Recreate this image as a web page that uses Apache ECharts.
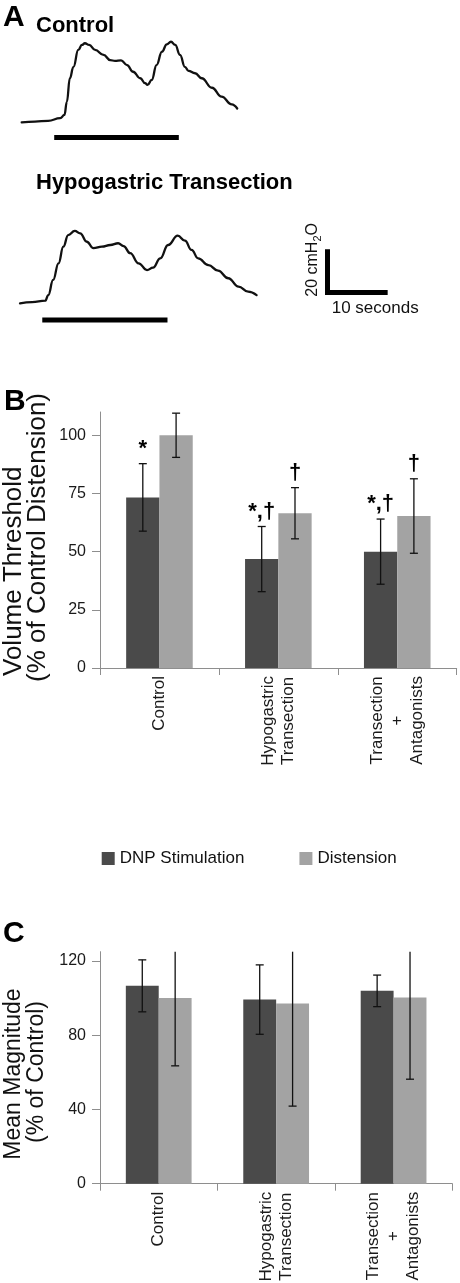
<!DOCTYPE html>
<html>
<head>
<meta charset="utf-8">
<script src="https://cdn.jsdelivr.net/npm/echarts@6/dist/echarts.min.js"></script>
<style>
html,body{margin:0;padding:0;background:#fff;}
#chart{width:460px;height:1283px;}
</style>
</head>
<body>
<div id="chart"></div>
<script>
// ---------- Panel A: pressure traces (seconds, cmH2O above baseline) ----------
const controlTrace = [[0,0],[2.2,0.3],[4.4,0.7],[6.4,1.9],[7.1,3.4],[7.5,9.5],[8.0,20.4],[8.6,25.7],[9.4,33.5],[10.0,35.8],[10.5,36.6],[11.2,35.8],[12.2,33.5],[13.6,31.2],[14.7,28.8],[15.5,28.4],[16.5,28.7],[17.5,26.5],[18.5,23.4],[19.7,20.4],[20.5,18.1],[20.9,17.3],[21.6,19.6],[22.4,26.5],[23.3,32.7],[24.1,36.1],[24.8,37.3],[25.5,35.8],[26.3,31.2],[27.1,25.7],[27.7,23.8],[28.8,22.7],[29.9,20.4],[31.6,16.0],[33.2,11.9],[34.9,8.3],[35.8,6.4]];
const hypoTrace = [[0,0],[2.0,0.5],[4.2,1.2],[4.7,3.8],[5.5,10.8],[6.4,18.5],[7.2,26.2],[8.0,31.6],[9.1,33.5],[10.0,32.4],[11.1,28.5],[12.2,25.5],[13.6,26.2],[15.0,27.0],[16.3,27.8],[17.2,26.5],[18.3,23.2],[19.7,18.5],[21.1,15.4],[22.1,16.5],[23.3,20.8],[24.6,27.0],[26.2,31.3],[27.4,29.0],[28.5,24.7],[29.6,20.8],[31.3,17.7],[32.9,15.1],[34.6,11.6],[36.3,7.7],[37.9,5.4],[39.3,3.8]];
const controlStimulus = [5.4, 26.1];   // seconds
const hypoStimulus = [3.7, 24.5];      // seconds
const scaleSeconds = 10;
const scalePressure = 20;

// ---------- Panels B & C ----------
const categories = ['Control', 'Hypogastric\nTransection', 'Transection\n+\nAntagonists'];
const seriesNames = ['DNP Stimulation', 'Distension'];
const thresholdDNP = [73.3, 46.8, 50.0];
const thresholdDNPErr = [14.5, 14.0, 14.0];
const thresholdDist = [100.0, 66.5, 65.3];
const thresholdDistErr = [9.5, 11.0, 16.0];
const thresholdDNPMarks = ['*', '*,†', '*,†'];
const thresholdDistMarks = ['', '†', '†'];
const thresholdTicks = [0, 25, 50, 75, 100];
const magnitudeDNP = [106.6, 99.2, 103.9];
const magnitudeDNPErr = [14.0, 18.7, 8.5];
const magnitudeDist = [100.0, 97.1, 100.3];
const magnitudeDistErr = [36.5, 55.3, 44.0];
const magnitudeTicks = [0, 40, 80, 120];

const FONT = '"Liberation Sans", Arial, Helvetica, sans-serif';
const DARK = '#4a4a4a';
const LIGHT = '#a3a3a3';
const AXIS_GRAY = '#8e8e8e';
const B_MAX = 110, C_MAX = 125;
const BAR_FRAC = 0.28;

function errorSeries(name, xi, yi, values, errs, side, yMax, marks) {
  return {
    type: 'custom', name: name, xAxisIndex: xi, yAxisIndex: yi, z: 10, silent: true,
    data: values.map((v, i) => [i, v, errs[i]]),
    renderItem: function (params, api) {
      const cat = api.value(0), v = api.value(1), e = api.value(2);
      const band = api.size([1, 0])[0];
      const bw = band * BAR_FRAC;
      const c = api.coord([cat, v]);
      const x = c[0] + side * bw / 2;
      const hi = v + e, lo = v - e;
      const clipped = hi > yMax;
      const yTop = api.coord([cat, clipped ? yMax : hi])[1];
      const yBot = api.coord([cat, lo])[1];
      const cap = 4;
      const st = { stroke: '#111', lineWidth: 1.3 };
      const children = [
        { type: 'line', shape: { x1: x, y1: yTop, x2: x, y2: yBot }, style: st },
        { type: 'line', shape: { x1: x - cap, y1: yBot, x2: x + cap, y2: yBot }, style: st }
      ];
      if (!clipped) children.push({ type: 'line', shape: { x1: x - cap, y1: yTop, x2: x + cap, y2: yTop }, style: st });
      const m = marks ? marks[params.dataIndex] : '';
      if (m) children.push({ type: 'text', style: { text: m, x: x, y: yTop - 15, align: 'center', verticalAlign: 'middle', fontSize: 22, fontWeight: 'bold', fontFamily: FONT, fill: '#000' } });
      return { type: 'group', children: children };
    }
  };
}

function catAxis(gi) {
  return {
    type: 'category', gridIndex: gi, data: categories,
    axisLine: { show: true, lineStyle: { color: AXIS_GRAY, width: 1 } },
    axisTick: { show: true, length: 7, lineStyle: { color: AXIS_GRAY } },
    axisLabel: {
      interval: 0, rotate: 90, margin: 8, color: '#1a1a1a', fontSize: 17, fontFamily: FONT,
      formatter: function (v) { return v.split('\n').map(s => '{c|' + s + '}').join('\n'); },
      rich: { c: { align: 'center', fontSize: 17, lineHeight: 20, fontFamily: FONT, color: '#1a1a1a' } }
    },
    splitLine: { show: false }
  };
}
function valAxis(gi, max, ticks) {
  return {
    type: 'value', gridIndex: gi, min: 0, max: max,
    axisLine: { show: true, lineStyle: { color: AXIS_GRAY, width: 1 } },
    axisTick: { show: true, length: 8, lineStyle: { color: AXIS_GRAY }, customValues: ticks },
    axisLabel: { margin: 14, color: '#1a1a1a', fontSize: 16, fontFamily: FONT, customValues: ticks },
    splitLine: { show: false }
  };
}
function hiddenAxis(type, gi, min, max) {
  return { type: type, gridIndex: gi, min: min, max: max, show: false, splitLine: { show: false } };
}

const chart = echarts.init(document.getElementById('chart'), null, { renderer: 'canvas' });

const traceStyle = { color: '#111', width: 2.3, join: 'round', cap: 'round' };
const option = {
  animation: false,
  backgroundColor: '#fff',
  textStyle: { fontFamily: FONT },
  grid: [
    { left: 21.7, top: 35.9, width: 240.8, height: 108, outerBoundsMode: 'none' },   // control trace
    { left: 20, top: 216.9, width: 240.8, height: 108, outerBoundsMode: 'none' },     // hypogastric trace
    { left: 327.5, top: 245, width: 72.2, height: 47.5, outerBoundsMode: 'none' },    // scale bar
    { left: 100, top: 412, width: 356.7, height: 256, outerBoundsMode: 'none' },      // B
    { left: 100, top: 951.7, width: 352.3, height: 232, outerBoundsMode: 'none' }     // C
  ],
  xAxis: [
    hiddenAxis('value', 0, 0, 40),
    hiddenAxis('value', 1, 0, 40),
    hiddenAxis('value', 2, 0, 12),
    catAxis(3),
    catAxis(4)
  ],
  yAxis: [
    hiddenAxis('value', 0, -10, 40),
    hiddenAxis('value', 1, -10, 40),
    hiddenAxis('value', 2, 0, 22),
    valAxis(3, B_MAX, thresholdTicks),
    valAxis(4, C_MAX, magnitudeTicks)
  ],
  legend: {
    data: seriesNames, left: 101.7, top: 850, padding: 0, itemGap: 55,
    itemWidth: 13, itemHeight: 13, icon: 'rect',
    textStyle: { fontSize: 17, color: '#111', fontFamily: FONT }
  },
  series: [
    { type: 'line', xAxisIndex: 0, yAxisIndex: 0, data: controlTrace, showSymbol: false, symbol: 'none', smooth: 0.45, smoothMonotone: 'x', lineStyle: traceStyle, silent: true, clip: false },
    { type: 'line', xAxisIndex: 0, yAxisIndex: 0, data: controlStimulus.map(t => [t, -7.0]), symbol: 'none', lineStyle: { color: '#000', width: 5, cap: 'butt' }, silent: true, clip: false },
    { type: 'line', xAxisIndex: 1, yAxisIndex: 1, data: hypoTrace, showSymbol: false, symbol: 'none', smooth: 0.45, smoothMonotone: 'x', lineStyle: traceStyle, silent: true, clip: false },
    { type: 'line', xAxisIndex: 1, yAxisIndex: 1, data: hypoStimulus.map(t => [t, -7.7]), symbol: 'none', lineStyle: { color: '#000', width: 5, cap: 'butt' }, silent: true, clip: false },
    { type: 'line', xAxisIndex: 2, yAxisIndex: 2, data: [[0, scalePressure], [0, 0], [scaleSeconds, 0]], symbol: 'none', lineStyle: { color: '#000', width: 5, cap: 'butt', join: 'miter' }, silent: true, clip: false },

    { type: 'bar', name: seriesNames[0], xAxisIndex: 3, yAxisIndex: 3, data: thresholdDNP, barWidth: (BAR_FRAC * 100) + '%', barGap: '0%', itemStyle: { color: DARK }, silent: true },
    { type: 'bar', name: seriesNames[1], xAxisIndex: 3, yAxisIndex: 3, data: thresholdDist, barWidth: (BAR_FRAC * 100) + '%', barGap: '0%', itemStyle: { color: LIGHT }, silent: true },
    errorSeries('errB1', 3, 3, thresholdDNP, thresholdDNPErr, -1, B_MAX, thresholdDNPMarks),
    errorSeries('errB2', 3, 3, thresholdDist, thresholdDistErr, 1, B_MAX, thresholdDistMarks),

    { type: 'bar', name: seriesNames[0], xAxisIndex: 4, yAxisIndex: 4, data: magnitudeDNP, barWidth: (BAR_FRAC * 100) + '%', barGap: '0%', itemStyle: { color: DARK }, silent: true },
    { type: 'bar', name: seriesNames[1], xAxisIndex: 4, yAxisIndex: 4, data: magnitudeDist, barWidth: (BAR_FRAC * 100) + '%', barGap: '0%', itemStyle: { color: LIGHT }, silent: true },
    errorSeries('errC1', 4, 4, magnitudeDNP, magnitudeDNPErr, -1, C_MAX, null),
    errorSeries('errC2', 4, 4, magnitudeDist, magnitudeDistErr, 1, C_MAX, null)
  ],
  graphic: [
    { type: 'text', x: 3, y: 18, style: { text: 'A', fontSize: 30, fontWeight: 'bold', fontFamily: FONT, fill: '#000', align: 'left', verticalAlign: 'middle' } },
    { type: 'text', x: 36, y: 25.7, style: { text: 'Control', fontSize: 22, fontWeight: 'bold', fontFamily: FONT, fill: '#000', align: 'left', verticalAlign: 'middle' } },
    { type: 'text', x: 36, y: 183, style: { text: 'Hypogastric Transection', fontSize: 22, fontWeight: 'bold', fontFamily: FONT, fill: '#000', align: 'left', verticalAlign: 'middle' } },
    { type: 'text', x: 331.7, y: 308, style: { text: '10 seconds', fontSize: 17, fontFamily: FONT, fill: '#111', align: 'left', verticalAlign: 'middle' } },
    { type: 'text', x: 312.4, y: 296.7, rotation: Math.PI / 2, style: {
        text: '{n|20 cmH}{s|2}{n|O}', align: 'left', verticalAlign: 'middle', fill: '#111',
        rich: { n: { fontSize: 16, lineHeight: 22, fontFamily: FONT, fill: '#111' }, s: { fontSize: 11, lineHeight: 22, verticalAlign: 'bottom', fontFamily: FONT, fill: '#111' } } } },
    { type: 'text', x: 4, y: 401.3, style: { text: 'B', fontSize: 30, fontWeight: 'bold', fontFamily: FONT, fill: '#000', align: 'left', verticalAlign: 'middle' } },
    { type: 'text', x: 14.3, y: 676, rotation: Math.PI / 2, style: { text: 'Volume Threshold', fontSize: 26, fontFamily: FONT, fill: '#111', align: 'left', verticalAlign: 'middle' } },
    { type: 'text', x: 37.7, y: 682, rotation: Math.PI / 2, style: { text: '(% of Control Distension)', fontSize: 26, fontFamily: FONT, fill: '#111', align: 'left', verticalAlign: 'middle' } },
    { type: 'text', x: 3, y: 934, style: { text: 'C', fontSize: 30, fontWeight: 'bold', fontFamily: FONT, fill: '#000', align: 'left', verticalAlign: 'middle' } },
    { type: 'text', x: 13.7, y: 1074, rotation: Math.PI / 2, style: { text: 'Mean Magnitude', fontSize: 23, fontFamily: FONT, fill: '#111', align: 'center', verticalAlign: 'middle' } },
    { type: 'text', x: 37, y: 1072, rotation: Math.PI / 2, style: { text: '(% of Control)', fontSize: 23, fontFamily: FONT, fill: '#111', align: 'center', verticalAlign: 'middle' } }
  ]
};
chart.setOption(option);
</script>
</body>
</html>
